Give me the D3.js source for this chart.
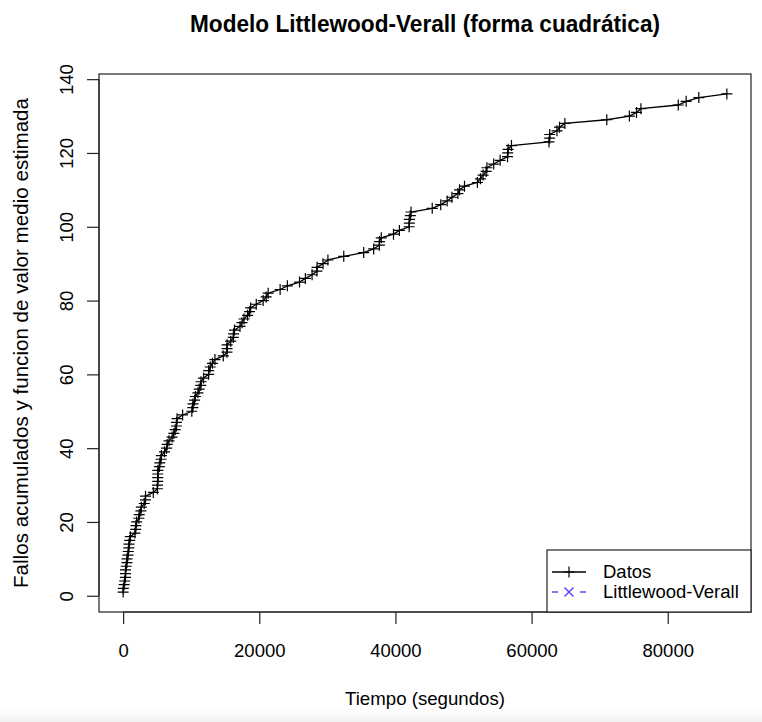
<!DOCTYPE html>
<html>
<head>
<meta charset="utf-8">
<script src="https://cdn.jsdelivr.net/npm/d3@7"></script>
<style>
  html, body { margin: 0; padding: 0; background: #fff; }
  svg { display: block; }
  text { font-family: "Liberation Sans", Arial, Helvetica, sans-serif; fill: #000; }
</style>
</head>
<body>
<script>
// ---- data: cumulative failure times (seconds), Musa SYS1 ----
const failTimes = [
  3, 33, 146, 227, 342, 351, 353, 444, 556, 571,
  709, 759, 836, 860, 968, 1056, 1726, 1846, 1872, 1986,
  2311, 2366, 2608, 2676, 3098, 3278, 3288, 4434, 5034, 5049,
  5085, 5089, 5089, 5097, 5324, 5389, 5565, 5623, 6080,
  6380, 6477, 6740, 7192, 7447, 7644, 7837, 7843, 7922, 8738,
  10089, 10237, 10258, 10491, 10625, 10982, 11175, 11411, 11442, 11811,
  12559, 12559, 12791, 13121, 13486, 14708, 15251, 15261, 15277, 15806,
  16185, 16229, 16358, 17168, 17458, 17758, 18287, 18568, 18728, 19556,
  20567, 21012, 21308, 23063, 24127, 25910, 26770, 27753, 28460, 28493,
  29361, 30085, 32408, 35338, 36799, 37642, 37654, 37915, 39715, 40580,
  42015, 42045, 42045, 42188, 42296, 45406, 46653, 47596, 48296, 49171, 49416,
  50145, 52042, 52489, 52875, 53321, 53443, 54433, 55381, 56463, 56485,
  56560, 57042, 62551, 62651, 62661, 63732, 64103, 64893, 71043, 74364,
  75409, 76057, 81542, 82702, 84566, 88682
];
const xTicks = [0, 20000, 40000, 60000, 80000];
const yTicks = [0, 20, 40, 60, 80, 100, 120, 140];
const legendLabels = ["Datos", "Littlewood-Verall"];
const titleText = "Modelo Littlewood-Verall (forma cuadrática)";
const xLabel = "Tiempo (segundos)";
const yLabel = "Fallos acumulados y funcion de valor medio estimada";

const points = failTimes.map((t, i) => ({ t: t, n: i + 1 }));

// ---- layout ----
const W = 762, H = 722;
const L = 99, R = 751, T = 74, B = 612;
const fs = 18.5;

const svg = d3.select("body").append("svg").attr("width", W).attr("height", H);

// faint bottom gradient (screenshot edge)
const defs = svg.append("defs");
const grad = defs.append("linearGradient").attr("id", "bg").attr("x1", 0).attr("y1", 0).attr("x2", 0).attr("y2", 1);
grad.append("stop").attr("offset", "0%").attr("stop-color", "#ffffff");
grad.append("stop").attr("offset", "100%").attr("stop-color", "#f1f1f1");
svg.append("rect").attr("x", 0).attr("y", 708).attr("width", W).attr("height", 14).attr("fill", "url(#bg)");

// R-style 4% padding
const xExt = d3.extent(points, d => d.t);
const yExt = d3.extent(points, d => d.n);
const xPad = (xExt[1] - xExt[0]) * 0.04;
const yPad = (yExt[1] - yExt[0]) * 0.04;
const x = d3.scaleLinear().domain([xExt[0] - xPad, xExt[1] + xPad]).range([L, R]);
const y = d3.scaleLinear().domain([yExt[0] - yPad, yExt[1] + yPad]).range([B, T]);

// axes
const xAxis = d3.axisBottom(x).tickValues(xTicks).tickSize(12).tickFormat(d3.format("d")).tickPadding(8);
const gx = svg.append("g").attr("transform", `translate(0,${B})`).call(xAxis);
gx.select(".domain").attr("d", `M${x(xTicks[0])},0H${x(xTicks[xTicks.length - 1])}`).attr("stroke", "#222").attr("stroke-width", 1.2);
gx.selectAll(".tick line").attr("stroke", "#222").attr("stroke-width", 1.2);
gx.selectAll(".tick text").attr("font-size", fs).attr("font-family", "Liberation Sans, Arial, sans-serif")
  .attr("y", 0).attr("dy", null).attr("transform", "translate(0,45)").attr("fill", "#000");

const yAxis = d3.axisLeft(y).tickValues(yTicks).tickSize(12).tickFormat(d3.format("d"));
const gy = svg.append("g").attr("transform", `translate(${L},0)`).call(yAxis);
gy.select(".domain").attr("d", `M0,${y(yTicks[0])}V${y(yTicks[yTicks.length - 1])}`).attr("stroke", "#222").attr("stroke-width", 1.2);
gy.selectAll(".tick line").attr("stroke", "#222").attr("stroke-width", 1.2);
gy.selectAll(".tick text")
  .attr("font-size", fs).attr("font-family", "Liberation Sans, Arial, sans-serif")
  .attr("x", null).attr("dy", null).attr("text-anchor", "middle")
  .attr("transform", "translate(-26,0) rotate(-90)").attr("y", 0).attr("fill", "#000");

// box
svg.append("rect").attr("x", L).attr("y", T).attr("width", R - L).attr("height", B - T)
  .attr("fill", "none").attr("stroke", "#222").attr("stroke-width", 1.2);

// data line
const line = d3.line().x(d => x(d.t)).y(d => y(d.n));
svg.append("path").datum(points).attr("d", line)
  .attr("fill", "none").attr("stroke", "#000").attr("stroke-width", 1.3);

// crosses (pch = 3)
const cs = 5.5;
svg.append("g").selectAll("path.pt").data(points).join("path")
  .attr("class", "pt")
  .attr("d", d => `M${x(d.t) - cs},${y(d.n)}H${x(d.t) + cs}M${x(d.t)},${y(d.n) - cs}V${y(d.n) + cs}`)
  .attr("stroke", "#000").attr("stroke-width", 1.2).attr("fill", "none");

// title and labels
svg.append("text").attr("x", (L + R) / 2).attr("y", 32).attr("text-anchor", "middle")
  .attr("font-size", 23).attr("font-weight", "bold")
  .attr("textLength", 470).attr("lengthAdjust", "spacingAndGlyphs").text(titleText);
svg.append("text").attr("x", (L + R) / 2).attr("y", 705).attr("text-anchor", "middle")
  .attr("font-size", fs).attr("textLength", 160).attr("lengthAdjust", "spacingAndGlyphs").text(xLabel);
svg.append("text").attr("transform", `translate(28,${(T + B) / 2}) rotate(-90)`).attr("text-anchor", "middle")
  .attr("font-size", 19.5).attr("textLength", 490).attr("lengthAdjust", "spacingAndGlyphs").text(yLabel);

// legend
const lg = svg.append("g");
lg.append("rect").attr("x", 547).attr("y", 550).attr("width", R - 547).attr("height", B - 550)
  .attr("fill", "#fff").attr("stroke", "#222").attr("stroke-width", 1.2);
const rows = [572, 592];
// Datos
lg.append("line").attr("x1", 552).attr("x2", 586).attr("y1", rows[0]).attr("y2", rows[0])
  .attr("stroke", "#000").attr("stroke-width", 1.3);
lg.append("path").attr("d", `M${569 - cs},${rows[0]}H${569 + cs}M569,${rows[0] - cs}V${rows[0] + cs}`)
  .attr("stroke", "#000").attr("stroke-width", 1.2);
// Littlewood-Verall
const lvColor = "#6a3ff0";
lg.append("line").attr("x1", 552).attr("x2", 586).attr("y1", rows[1]).attr("y2", rows[1])
  .attr("stroke", lvColor).attr("stroke-width", 1.4).attr("stroke-dasharray", "6,22");
const xs = 4.5;
lg.append("path").attr("d", `M${569 - xs},${rows[1] - xs}L${569 + xs},${rows[1] + xs}M${569 - xs},${rows[1] + xs}L${569 + xs},${rows[1] - xs}`)
  .attr("stroke", lvColor).attr("stroke-width", 1.5);
legendLabels.forEach((lab, i) => {
  lg.append("text").attr("x", 603).attr("y", rows[i]).attr("dy", "0.35em")
    .attr("font-size", fs).text(lab);
});
</script>
</body>
</html>
